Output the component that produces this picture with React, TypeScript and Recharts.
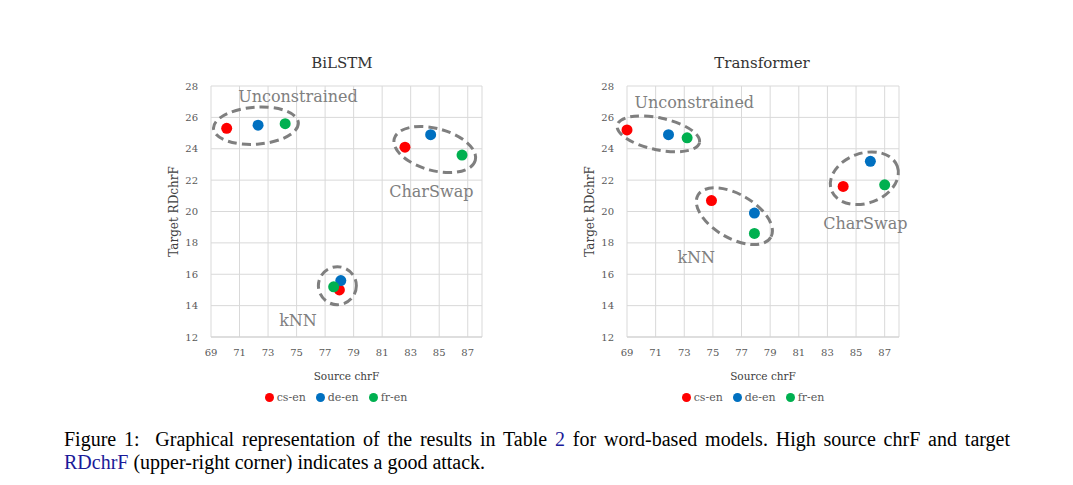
import React from 'react';
import { ScatterChart, Scatter, XAxis, YAxis, CartesianGrid, Legend, ReferenceArea, ReferenceDot } from 'recharts';

// axis ticks
const xTicks = [69, 71, 73, 75, 77, 79, 81, 83, 85, 87];
const yTicks = [12, 14, 16, 18, 20, 22, 24, 26, 28];

// BiLSTM: points are Unconstrained, CharSwap, kNN
const bilstmCsEn = [{ x: 70.1, y: 25.3 }, { x: 82.6, y: 24.1 }, { x: 78.0, y: 15.0 }];
const bilstmDeEn = [{ x: 72.3, y: 25.5 }, { x: 84.4, y: 24.9 }, { x: 78.1, y: 15.6 }];
const bilstmFrEn = [{ x: 74.2, y: 25.6 }, { x: 86.6, y: 23.6 }, { x: 77.6, y: 15.2 }];

// Transformer
const transCsEn = [{ x: 69.0, y: 25.2 }, { x: 84.1, y: 21.6 }, { x: 74.9, y: 20.7 }];
const transDeEn = [{ x: 71.9, y: 24.9 }, { x: 86.0, y: 23.2 }, { x: 77.9, y: 19.9 }];
const transFrEn = [{ x: 73.2, y: 24.7 }, { x: 87.0, y: 21.7 }, { x: 77.9, y: 18.6 }];

// dashed groups, in data units (centre, half sizes), plus label spot
const bilstmGroups = [
  { name: 'Unconstrained', cx: 72.15, cy: 25.47, rx: 2.98, ry: 1.18, angle: -4, lx: 75.1, ly: 27.0 },
  { name: 'CharSwap', cx: 84.69, cy: 23.95, rx: 2.94, ry: 1.34, angle: 15, lx: 84.45, ly: 20.94 },
  { name: 'kNN', cx: 77.86, cy: 15.27, rx: 1.33, ry: 1.21, angle: 0, lx: 75.1, ly: 12.7 },
];
const transGroups = [
  { name: 'Unconstrained', cx: 71.19, cy: 24.95, rx: 2.94, ry: 1.02, angle: 12, lx: 73.7, ly: 26.62 },
  { name: 'kNN', cx: 76.5, cy: 19.7, rx: 2.94, ry: 1.4, angle: 30, lx: 73.84, ly: 16.7 },
  { name: 'CharSwap', cx: 85.58, cy: 22.12, rx: 2.45, ry: 1.59, angle: -20, lx: 85.65, ly: 18.89 },
];

const RED = '#ff0000';
const BLUE = '#0070c0';
const GREEN = '#00b050';
const FONT = '"DejaVu Serif", serif';

const dot = (color: string) => (p: any) => <circle cx={p.cx} cy={p.cy} r={5.5} fill={color} />;

const LegendBox = ({ payload }: any) => (
  <div style={{ display: 'flex', justifyContent: 'center', fontFamily: FONT, fontSize: 11, color: '#595959' }}>
    {(payload || []).map((e: any) => (
      <span key={e.value} style={{ display: 'flex', alignItems: 'center', margin: '0 5px' }}>
        <span style={{ width: 9, height: 9, borderRadius: 5, background: e.color, marginRight: 3 }} />
        {e.value}
      </span>
    ))}
  </div>
);

const Panel = ({ left, title, titleX, cs, de, fr, groups, marginLeft, marginRight, legendLeft }: any) => (
  <div style={{ position: 'absolute', left, top: 0, width: 520, height: 420 }}>
    <div style={{ position: 'absolute', left: titleX - 100, top: 54, width: 200, textAlign: 'center', fontFamily: FONT, fontSize: 15, lineHeight: '18px', color: '#333' }}>
      {title}
    </div>
    <ScatterChart width={520} height={420} margin={{ top: 86, right: marginRight, bottom: 38, left: marginLeft }}>
      <CartesianGrid stroke="#d9d9d9" />
      <XAxis
        type="number"
        dataKey="x"
        domain={[69, 88]}
        ticks={xTicks}
        tickLine={false}
        tickSize={0}
        tickMargin={12}
        axisLine={{ stroke: '#d0d0d0' }}
        height={45}
        tick={{ fill: '#595959', fontSize: 10, fontFamily: FONT }}
        label={{ value: 'Source chrF', position: 'insideBottom', offset: 2, fill: '#404040', fontSize: 10.5, fontFamily: FONT }}
      />
      <YAxis
        type="number"
        dataKey="y"
        domain={[12, 28]}
        ticks={yTicks}
        axisLine={false}
        tickLine={false}
        tickSize={0}
        tickMargin={13}
        width={51}
        tick={{ fill: '#595959', fontSize: 10, fontFamily: FONT }}
        label={{ value: 'Target RDchrF', angle: -90, position: 'insideLeft', offset: 14, fill: '#404040', fontSize: 12, fontFamily: FONT, style: { textAnchor: 'middle' } }}
      />
      <Scatter name="cs-en" data={cs} fill={RED} shape={dot(RED)} isAnimationActive={false} />
      <Scatter name="de-en" data={de} fill={BLUE} shape={dot(BLUE)} isAnimationActive={false} />
      <Scatter name="fr-en" data={fr} fill={GREEN} shape={dot(GREEN)} isAnimationActive={false} />
      {groups.map((g: any) => (
        <ReferenceArea
          key={'e' + g.name}
          x1={g.cx - g.rx}
          x2={g.cx + g.rx}
          y1={g.cy - g.ry}
          y2={g.cy + g.ry}
          ifOverflow="visible"
          shape={(p: any) => {
            const cx = p.x + p.width / 2;
            const cy = p.y + p.height / 2;
            return (
              <ellipse
                cx={cx}
                cy={cy}
                rx={Math.abs(p.width) / 2}
                ry={Math.abs(p.height) / 2}
                transform={`rotate(${g.angle} ${cx} ${cy})`}
                fill="none"
                stroke="#7f7f7f"
                strokeWidth={3}
                strokeDasharray="9 5"
              />
            );
          }}
        />
      ))}
      {groups.map((g: any) => (
        <ReferenceDot
          key={'l' + g.name}
          x={g.lx}
          y={g.ly}
          r={1}
          ifOverflow="visible"
          shape={(p: any) => (
            <text x={p.cx} y={p.cy} textAnchor="middle" fill="#808080" fontSize={16} fontFamily={FONT}>
              {g.name}
            </text>
          )}
        />
      ))}
      <Legend
        verticalAlign="middle"
        align="center"
        content={<LegendBox />}
        wrapperStyle={{ top: 391, left: legendLeft, width: 200 }}
      />
    </ScatterChart>
  </div>
);

export default function App() {
  return (
    <div style={{ position: 'absolute', left: 0, top: 0, width: 1073, height: 485, background: '#fff', overflow: 'hidden' }}>
      <Panel left={0} title="BiLSTM" titleX={342} cs={bilstmCsEn} de={bilstmDeEn} fr={bilstmFrEn} groups={bilstmGroups} marginLeft={160} marginRight={38} legendLeft={236} />
      <Panel left={420} title="Transformer" titleX={342} cs={transCsEn} de={transDeEn} fr={transFrEn} groups={transGroups} marginLeft={156} marginRight={41} legendLeft={233} />
      <div style={{ position: 'absolute', left: 64, top: 428, fontFamily: '"Liberation Serif", serif', fontSize: 20, lineHeight: '23.3px', color: '#000' }}>
        <div style={{ width: 946, textAlign: 'justify', textAlignLast: 'justify', whiteSpace: 'nowrap' }}>
          Figure 1:&nbsp; Graphical representation of the results in Table <span style={{ color: '#1a1a99' }}>2</span> for word-based models. High source chrF and target
        </div>
        <div>
          <span style={{ color: '#1a1a99' }}>RDchrF</span> (upper-right corner) indicates a good attack.
        </div>
      </div>
    </div>
  );
}
